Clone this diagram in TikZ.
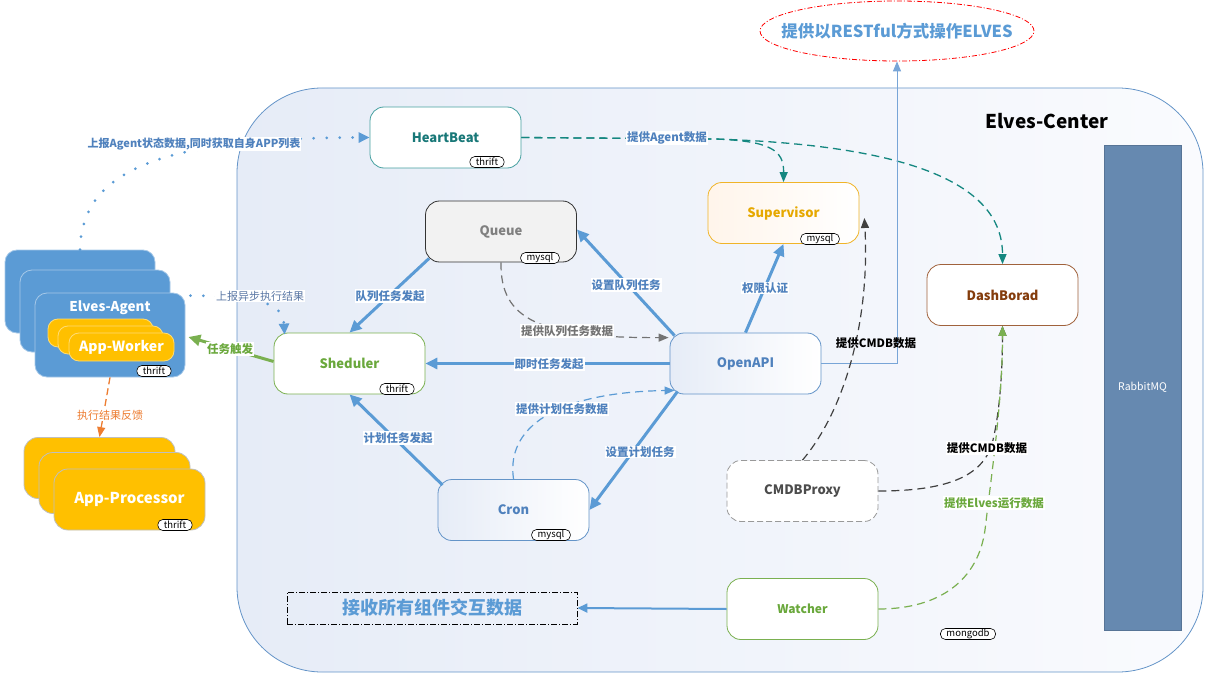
\documentclass[tikz,border=0pt]{standalone}
\usepackage{fontspec}
\setmainfont{Noto Sans CJK SC}
\usetikzlibrary{arrows.meta,shapes.geometric,calc}

\definecolor{ctrline}{RGB}{100,148,200}
\definecolor{ctrfillA}{RGB}{230,236,247}
\definecolor{ctrfillB}{RGB}{250,251,254}
\definecolor{arrowblue}{RGB}{91,155,213}
\definecolor{labelblue}{RGB}{79,129,189}
\definecolor{lineblue}{RGB}{120,165,215}
\definecolor{tealline}{RGB}{20,135,128}
\definecolor{hbline}{RGB}{70,160,160}
\definecolor{hbtext}{RGB}{25,120,120}
\definecolor{supline}{RGB}{240,180,40}
\definecolor{suptext}{RGB}{230,168,0}
\definecolor{greenline}{RGB}{122,176,80}
\definecolor{greentext}{RGB}{106,168,60}
\definecolor{brownline}{RGB}{160,98,60}
\definecolor{browntext}{RGB}{132,60,12}
\definecolor{gold}{RGB}{255,192,0}
\definecolor{agentblue}{RGB}{91,155,213}
\definecolor{mqblue}{RGB}{102,137,176}
\definecolor{orangeline}{RGB}{237,125,49}
\definecolor{asynctext}{RGB}{91,120,165}

\tikzset{
  comp/.style={draw, rounded corners=14pt, minimum width=151pt, minimum height=61pt,
    line width=0.8pt, inner sep=0pt, font=\bfseries\fontsize{13}{15}\selectfont},
  tag/.style={draw=black, fill=white, rounded corners=5pt, line width=0.6pt,
    minimum height=11pt, inner xsep=6pt, inner ysep=0pt, font=\fontsize{9.5}{10}\selectfont},
  lbl/.style={fill=white, inner sep=1pt, text=labelblue, font=\bfseries\fontsize{11.5}{13}\selectfont},
  bigarrow/.style={draw=arrowblue, line width=3pt, -{Triangle[length=12pt,width=11pt]}},
  greenarrow/.style={draw=greenline, line width=3pt, -{Triangle[length=12pt,width=11pt]}},
  dotline/.style={draw=arrowblue, line width=3pt, line cap=round, dash pattern=on 0pt off 13pt,
    -{Triangle[length=11pt,width=10pt]}},
  dashtip/.style={-{Triangle[length=10pt,width=8pt]}},
  tealdash/.style={draw=tealline, line width=1.3pt, dash pattern=on 8pt off 5pt, dashtip, tealline},
  blackdash/.style={draw=black!75, line width=1.2pt, dash pattern=on 8pt off 5pt, dashtip},
  graydash/.style={draw=black!55, line width=1.2pt, dash pattern=on 8pt off 5pt, dashtip},
  bluedash/.style={draw=arrowblue, line width=1.2pt, dash pattern=on 8pt off 5pt, dashtip},
  greendash/.style={draw=greenline, line width=1.2pt, dash pattern=on 8pt off 5pt, dashtip, greenline},
  orangedash/.style={draw=orangeline, line width=1.3pt, dash pattern=on 7pt off 4pt, dashtip, orangeline},
  agentbox/.style={draw=agentblue!55!white, fill=agentblue, rounded corners=12pt, line width=0.8pt,
    inner sep=0pt, minimum width=150pt},
  workerbox/.style={draw=gold!55!white, fill=gold, rounded corners=10pt, line width=0.8pt,
    inner sep=0pt, minimum width=105pt, minimum height=28pt},
  procbox/.style={draw=black!25, fill=gold, rounded corners=14pt, line width=0.8pt,
    inner sep=0pt, minimum width=151pt, minimum height=61pt},
}

\begin{document}
\begin{tikzpicture}[x=1pt,y=-1pt]
\useasboundingbox (0,0) rectangle (1208,674);

% Elves-Center container
\node[draw=ctrline, line width=0.8pt, rounded corners=85pt, left color=ctrfillA, right color=ctrfillB,
  minimum width=966pt, minimum height=584pt, inner sep=0pt] (center) at (720,380) {};
\node[font=\bfseries\fontsize{19}{22}\selectfont] (ctitle) at (1047,121) {Elves-Center};

% message bus
\node[draw=mqblue!85!black, fill=mqblue, minimum width=77pt, minimum height=485pt, inner sep=0pt,
  text=white, font=\fontsize{10.5}{12}\selectfont] (mq) at (1142.5,387.5) {RabbitMQ};

% REST target
\node[ellipse, draw=red, line width=0.8pt, dash pattern=on 5pt off 2pt on 1pt off 2pt,
  minimum width=274pt, minimum height=60pt, inner sep=0pt] (rest) at (897,31) {};
\node[text=arrowblue, font=\bfseries\fontsize{16.5}{18}\selectfont] (resttext) at (rest.center) {提供以RESTful方式操作ELVES};

% center components
\node[comp, draw=hbline, fill=white, text=hbtext] (hb) at (445.5,137.5) {HeartBeat};
\node[tag] (hbtag) at (487,162) {thrift};
\node[comp, draw=supline, left color=orange!8, right color=white, text=suptext] (sup) at (783.5,213) {Supervisor};
\node[tag] (suptag) at (820,239) {mysql};
\node[comp, draw=black!80, fill=black!5, text=black!50] (queue) at (501,231.5) {Queue};
\node[tag] (qtag) at (540,258) {mysql};
\node[comp, draw=brownline, fill=white, text=browntext] (dash) at (1002.5,295) {DashBorad};
\node[comp, draw=greenline, fill=white, text=greentext] (sched) at (349.5,363.5) {Sheduler};
\node[tag] (schedtag) at (397,389) {thrift};
\node[comp, draw=ctrline, left color=ctrfillA, right color=white, text=labelblue] (api) at (745.5,363.5) {OpenAPI};
\node[comp, draw=ctrline, left color=ctrfillA, right color=white, text=labelblue] (cron) at (513.5,510) {Cron};
\node[tag] (crontag) at (551,535) {mysql};
\node[comp, draw=black!40, dash pattern=on 6pt off 3pt, fill=white, text=black!70] (cmdb) at (802.5,491) {CMDBProxy};
\node[comp, draw=greenline, fill=white, text=greentext, font=\bfseries\fontsize{12}{14}\selectfont] (watch) at (802.5,609) {Watcher};
\node[tag] (mongotag) at (968,634) {mongodb};
\node[draw=black, line width=0.8pt, dash pattern=on 6pt off 2pt on 1pt off 2pt,
  minimum width=290pt, minimum height=32pt, inner sep=0pt, text=arrowblue,
  font=\bfseries\fontsize{18}{20}\selectfont] (recv) at (432,608) {接收所有组件交互数据};

% agent stack
\node[agentbox, minimum height=83pt] (agent1) at (80,291.5) {};
\node[agentbox, minimum height=82pt] (agent2) at (95,311) {};
\node[agentbox, minimum height=84pt] (agent3) at (110,335) {};
\node[text=white, font=\bfseries\fontsize{13.5}{15}\selectfont] (agentname) at (110,308) {Elves-Agent};
\node[workerbox] (worker1) at (100.5,333) {};
\node[workerbox] (worker2) at (110.5,340) {};
\node[workerbox, text=white, font=\bfseries\fontsize{14}{16}\selectfont] (worker3) at (121.5,347) {App-Worker};
\node[tag] (agenttag) at (154,371) {thrift};

% processor stack
\node[procbox] (proc1) at (99.5,468) {};
\node[procbox] (proc2) at (114.5,483) {};
\node[procbox, text=white, font=\bfseries\fontsize{15}{17}\selectfont] (proc3) at (129.5,499.5) {App-Processor};
\node[tag] (proctag) at (175,525) {thrift};

% agent to heartbeat / scheduler
\draw[dotline] (agent1.north) .. controls (82,175) and (150,138) .. (hb.west);
\draw[dotline] ([shift={(5,3)}]agent3.north east) .. controls (265,296) and (283,305) .. ([shift={(11,2)}]sched.north west);
\draw[greenarrow] ([yshift=2]sched.west) -- ([shift={(3,2)}]agent3.east);
\draw[orangedash] (agent3.south) -- (proc1.north);

% heartbeat data
\draw[tealdash] (hb.east) -- (715,139) .. controls (770,141) and (784,150) .. (sup.north);
\draw[tealdash] (hb.east) -- (715,139) .. controls (900,145) and (1002.5,180) .. (dash.north);

% scheduling flows
\draw[bigarrow] ([shift={(4,-4)}]queue.south west) -- (sched.north);
\draw[bigarrow] ([shift={(5,3)}]api.north west) -- ([yshift=2]queue.east);
\draw[bigarrow] (api.north) -- (sup.south);
\draw[bigarrow] (api.west) -- (sched.east);
\draw[bigarrow] ([shift={(8,-3)}]api.south west) -- (cron.east);
\draw[bigarrow] ([shift={(5,6)}]cron.north west) -- (sched.south);
\draw[graydash] (queue.south) .. controls (500,320) and (540,338) .. ([shift={(-1,5)}]api.north west);
\draw[bluedash] (cron.north) .. controls (505,420) and (570,392) .. ([shift={(5,-4)}]api.south west);

% REST exposure
\draw[draw=lineblue, line width=1pt, -{Triangle[length=10pt,width=8pt]}, lineblue] (api.east) -| (rest.south);

% CMDB / watcher data
\draw[blackdash] (cmdb.north) .. controls (845,410) and (870,320) .. ([shift={(5,5)}]sup.east);
\draw[blackdash] (cmdb.east) .. controls (950,491) and (985,475) .. (993,440) .. controls (1000,410) and (1002.5,370) .. (dash.south);
\draw[greendash] (watch.east) .. controls (940,609) and (978,580) .. (985,530) .. controls (992,470) and (1002.5,400) .. (dash.south);
\draw[draw=lineblue, line width=2pt, -{Triangle[length=10pt,width=9pt]}, arrowblue] (watch.west) -- (recv.east);

% connector labels
\node[lbl, font=\bfseries\fontsize{11}{13}\selectfont] (lhb) at (194,144) {上报Agent状态数据,同时获取自身APP列表};
\node[lbl, text=asynctext, font=\fontsize{11}{13}\selectfont] (lasync) at (260,296) {上报异步执行结果};
\node[lbl, text=greentext] (ltrig) at (230,349) {任务触发};
\node[lbl, text=orangeline, font=\fontsize{11}{13}\selectfont] (lfeed) at (110,415) {执行结果反馈};
\node[lbl] (lagent) at (667,138) {提供Agent数据};
\node[lbl] (lqstart) at (390,296) {队列任务发起};
\node[lbl] (lqset) at (626,285) {设置队列任务};
\node[lbl] (lauth) at (765,288) {权限认证};
\node[lbl, text=black!55] (lqdata) at (567,331) {提供队列任务数据};
\node[lbl] (lnow) at (549,364) {即时任务发起};
\node[lbl] (lcdata) at (562,409) {提供计划任务数据};
\node[lbl] (lcset) at (640,452) {设置计划任务};
\node[lbl] (lcstart) at (398,438) {计划任务发起};
\node[lbl, text=black, fill=none] (lcmdb1) at (876,343) {提供CMDB数据};
\node[lbl, text=black] (lcmdb2) at (987,448) {提供CMDB数据};
\node[lbl, text=greentext] (lrun) at (994,503) {提供Elves运行数据};
\end{tikzpicture}
\end{document}
